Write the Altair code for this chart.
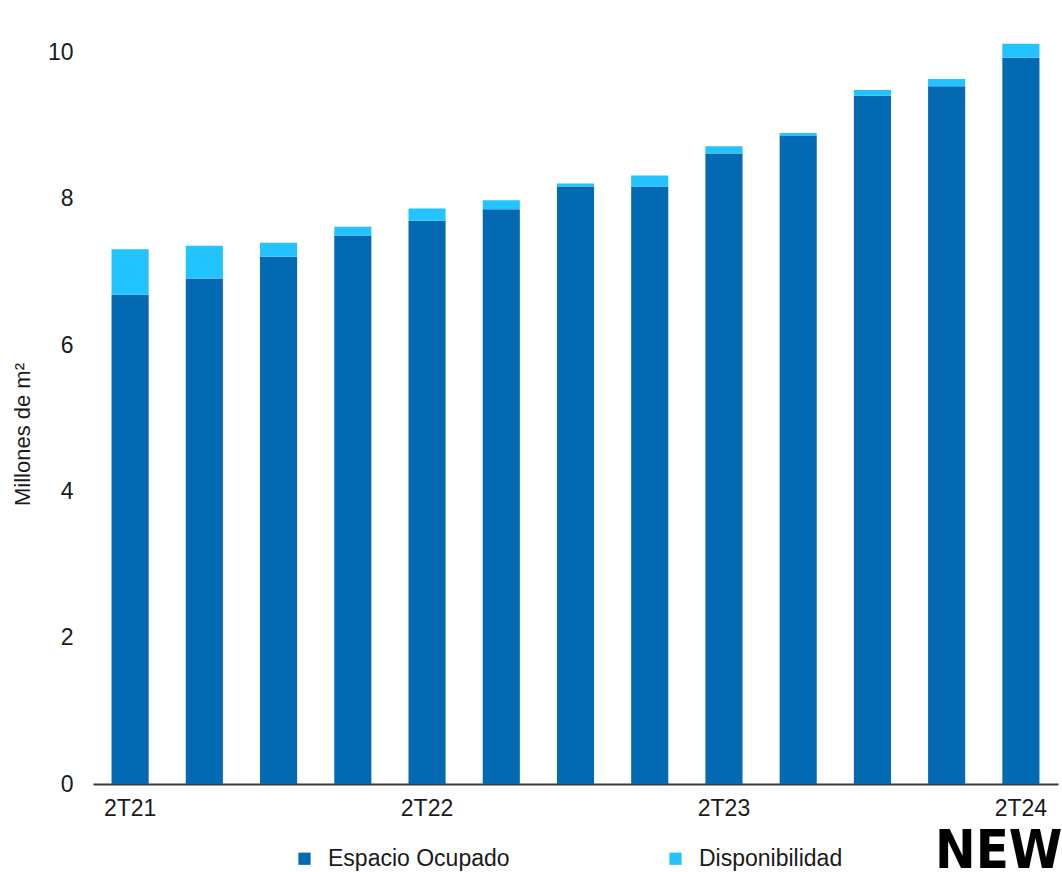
import altair as alt
import pandas as pd

# Quarterly stock of space (millions of m²)
trimestres = ["2T21", "3T21", "4T21", "1T22", "2T22", "3T22", "4T22",
              "1T23", "2T23", "3T23", "4T23", "1T24", "2T24"]
ocupado = [6.69, 6.91, 7.21, 7.50, 7.70, 7.86, 8.17, 8.17, 8.62, 8.86, 9.41, 9.54, 9.93]
disponible = [0.62, 0.45, 0.19, 0.12, 0.17, 0.12, 0.04, 0.15, 0.10, 0.04, 0.08, 0.10, 0.19]

series = ["Espacio Ocupado", "Disponibilidad"]
colores = ["#0469B3", "#22C3FE"]

rows = []
for t, o, d in zip(trimestres, ocupado, disponible):
    rows.append({"trimestre": t, "serie": series[0], "valor": o, "orden": 0})
    rows.append({"trimestre": t, "serie": series[1], "valor": d, "orden": 1})
df = pd.DataFrame(rows)

FONT = "Liberation Sans"

bars = alt.Chart(df).mark_bar().encode(
    x=alt.X(
        "trimestre:N",
        sort=trimestres,
        scale=alt.Scale(paddingInner=0.5, paddingOuter=0.25),
        axis=alt.Axis(
            title=None,
            labelAngle=0,
            ticks=False,
            labelPadding=13,
            labelExpr="substring(datum.value, 0, 2) == '2T' ? datum.value : ''",
            domainColor="#3a3a3a",
            domainWidth=2,
        ),
    ),
    y=alt.Y(
        "valor:Q",
        stack="zero",
        scale=alt.Scale(domain=[0, 10.2], nice=False),
        axis=alt.Axis(
            title="Millones de m²",
            values=[0, 2, 4, 6, 8, 10],
            grid=False,
            ticks=False,
            domain=False,
            labelPadding=20,
            titleAngle=-90,
            titleAlign="center",
            titleBaseline="middle",
            titleX=-71,
            titleY=396,
            titleFontWeight="normal",
        ),
    ),
    color=alt.Color(
        "serie:N",
        scale=alt.Scale(domain=series, range=colores),
        legend=alt.Legend(
            title=None,
            orient="none",
            direction="horizontal",
            legendX=200,
            legendY=809,
            symbolType="square",
            symbolSize=150,
            symbolStrokeWidth=0,
            labelOffset=12,
            labelLimit=400,
            columnPadding=154,
        ),
    ),
    order=alt.Order("orden:Q"),
)

marca = alt.Chart(pd.DataFrame({"t": ["NEWM"]})).mark_text(
    font="DejaVu Sans Condensed, Liberation Sans",
    fontWeight="bold",
    fontSize=54,
    align="left",
    baseline="alphabetic",
    color="#000000",
).encode(text="t:N", x=alt.value(842), y=alt.value(830))

chart = alt.layer(bars, marca).properties(
    width=965,
    height=746,
    autosize=alt.AutoSizeParams(type="none"),
    padding={"left": 93, "top": 38, "right": 4, "bottom": 88},
    background="white",
).configure_view(strokeWidth=0).configure_axis(
    labelFont=FONT,
    labelFontSize=23,
    labelColor="#1a1a1a",
    titleFont=FONT,
    titleFontSize=22,
    titleColor="#1a1a1a",
).configure_legend(
    labelFont=FONT,
    labelFontSize=23,
    labelColor="#1a1a1a",
)

chart.save("out.html", embed_options={"renderer": "svg", "actions": False})
